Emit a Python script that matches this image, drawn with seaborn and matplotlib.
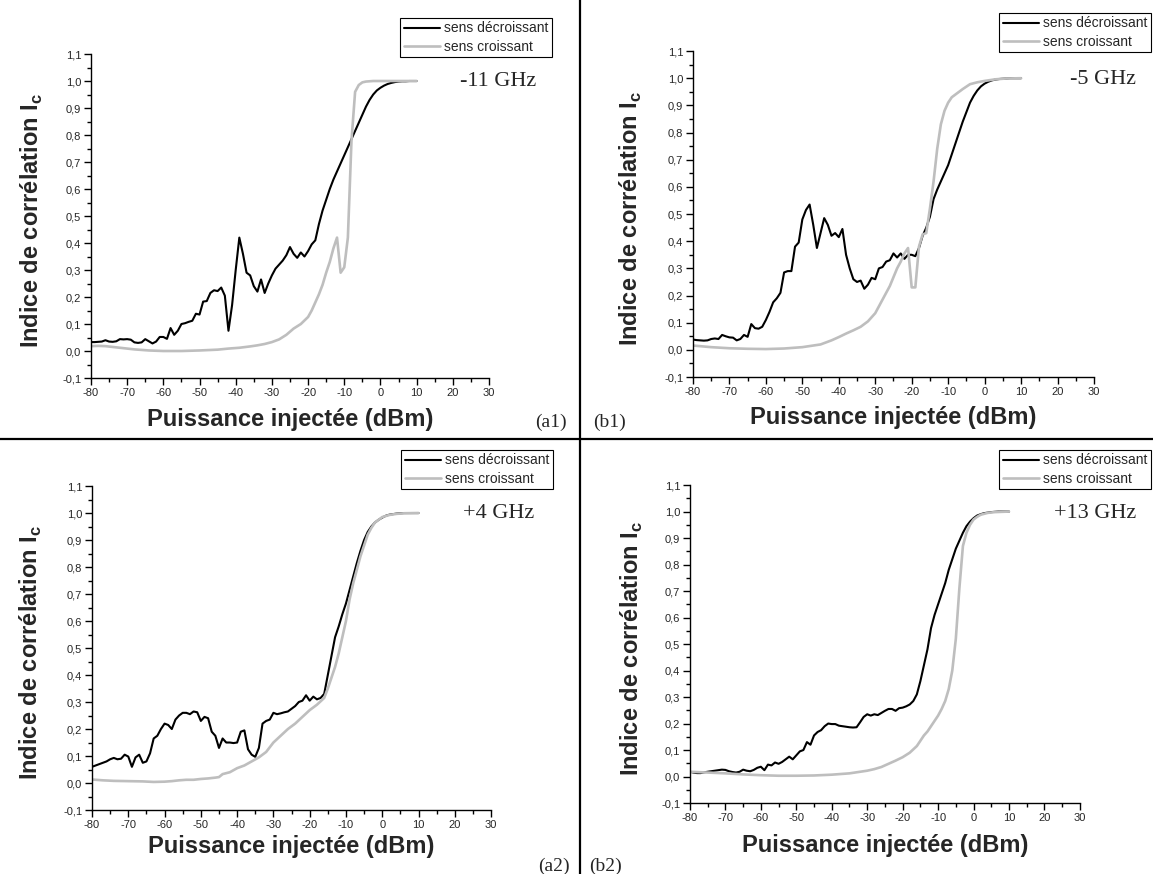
import numpy as np
import pandas as pd
import matplotlib
matplotlib.use("Agg")
import matplotlib.pyplot as plt
from matplotlib.lines import Line2D
from matplotlib.ticker import MultipleLocator, FuncFormatter
import seaborn as sns

sns.set_style("ticks")
plt.rcParams["font.family"] = ["Liberation Sans", "DejaVu Sans"]
plt.rcParams["axes.unicode_minus"] = False
plt.rcParams["mathtext.fontset"] = "custom"
plt.rcParams["mathtext.rm"] = "Liberation Sans"
plt.rcParams["mathtext.bf"] = "Liberation Sans:bold"

# puissance injectée (dBm), pas de 1 dB pour le sens décroissant
puissance = list(range(-80, 11))

# (a1) -11 GHz
a1_dec = [0.033, 0.033, 0.034, 0.035, 0.040, 0.035, 0.034, 0.036, 0.044, 0.043,
          0.044, 0.042, 0.032, 0.030, 0.032, 0.044, 0.036, 0.028, 0.035, 0.052,
          0.052, 0.045, 0.085, 0.060, 0.075, 0.100, 0.103, 0.108, 0.112, 0.138,
          0.135, 0.183, 0.185, 0.215, 0.225, 0.222, 0.235, 0.205, 0.075, 0.170,
          0.300, 0.420, 0.360, 0.290, 0.280, 0.240, 0.220, 0.265, 0.215, 0.250,
          0.280, 0.305, 0.320, 0.335, 0.355, 0.385, 0.360, 0.345, 0.365, 0.350,
          0.370, 0.395, 0.410, 0.470, 0.520, 0.560, 0.600, 0.635, 0.665, 0.695,
          0.725, 0.755, 0.785, 0.815, 0.845, 0.875, 0.905, 0.930, 0.950, 0.965,
          0.975, 0.983, 0.989, 0.993, 0.996, 0.998, 0.999, 0.999, 1.000, 1.000, 1.000]
a1_cro_x = [-80, -78, -76, -74, -72, -70, -68, -66, -64, -62, -60, -55, -50, -45, -42,
            -39, -36, -34, -32, -30, -28, -26, -24, -22, -20, -19, -18, -17, -16, -15,
            -14, -13, -12, -11, -10, -9, -8, -7, -6, -5, -4, -2, 0, 2, 5, 10]
a1_cro = [0.018, 0.019, 0.018, 0.015, 0.012, 0.009, 0.006, 0.004, 0.002, 0.001, 0.000,
          0.000, 0.002, 0.005, 0.009, 0.012, 0.017, 0.021, 0.026, 0.033, 0.043, 0.060,
          0.083, 0.100, 0.126, 0.150, 0.180, 0.210, 0.245, 0.290, 0.330, 0.380, 0.420,
          0.290, 0.310, 0.420, 0.780, 0.960, 0.985, 0.995, 0.998, 1.000, 1.000, 1.000,
          1.000, 1.000]

# (b1) -5 GHz
b1_dec = [0.038, 0.036, 0.035, 0.034, 0.035, 0.040, 0.042, 0.040, 0.055, 0.050,
          0.046, 0.045, 0.035, 0.040, 0.055, 0.048, 0.095, 0.080, 0.078, 0.085,
          0.110, 0.140, 0.175, 0.190, 0.210, 0.285, 0.290, 0.290, 0.380, 0.395,
          0.480, 0.515, 0.535, 0.460, 0.375, 0.430, 0.485, 0.460, 0.420, 0.430,
          0.415, 0.445, 0.350, 0.300, 0.260, 0.250, 0.255, 0.225, 0.240, 0.265,
          0.260, 0.300, 0.305, 0.325, 0.330, 0.355, 0.340, 0.355, 0.335, 0.350,
          0.350, 0.345, 0.375, 0.420, 0.450, 0.490, 0.555, 0.590, 0.620, 0.650,
          0.680, 0.720, 0.760, 0.800, 0.840, 0.875, 0.910, 0.935, 0.955, 0.970,
          0.980, 0.987, 0.992, 0.995, 0.997, 0.998, 0.999, 1.000, 1.000, 1.000, 1.000]
b1_cro_x = [-80, -75, -70, -65, -60, -55, -50, -45, -42, -40, -38, -36, -34, -32, -30,
            -28, -26, -24, -23, -22, -21, -20, -19, -18, -17, -16, -15, -14, -13, -12,
            -11, -10, -9, -8, -6, -4, -2, 0, 3, 6, 10]
b1_cro = [0.016, 0.010, 0.006, 0.004, 0.003, 0.005, 0.010, 0.020, 0.035, 0.047, 0.060,
          0.072, 0.085, 0.105, 0.135, 0.185, 0.235, 0.300, 0.325, 0.355, 0.375, 0.230,
          0.230, 0.380, 0.425, 0.430, 0.520, 0.620, 0.740, 0.830, 0.880, 0.910, 0.930,
          0.940, 0.960, 0.978, 0.985, 0.990, 0.996, 0.999, 1.000]

# (a2) +4 GHz
a2_dec = [0.060, 0.065, 0.070, 0.075, 0.080, 0.088, 0.093, 0.088, 0.090, 0.105,
          0.098, 0.060, 0.095, 0.105, 0.075, 0.080, 0.110, 0.165, 0.175, 0.200,
          0.220, 0.215, 0.200, 0.235, 0.250, 0.260, 0.260, 0.255, 0.265, 0.262,
          0.230, 0.245, 0.240, 0.190, 0.175, 0.130, 0.165, 0.150, 0.150, 0.148,
          0.150, 0.190, 0.195, 0.125, 0.105, 0.097, 0.130, 0.220, 0.230, 0.235,
          0.260, 0.255, 0.258, 0.262, 0.265, 0.275, 0.285, 0.300, 0.305, 0.325,
          0.305, 0.320, 0.310, 0.315, 0.330, 0.400, 0.470, 0.540, 0.580, 0.625,
          0.665, 0.715, 0.765, 0.815, 0.860, 0.900, 0.930, 0.950, 0.965, 0.975,
          0.983, 0.990, 0.994, 0.996, 0.998, 0.999, 1.000, 1.000, 1.000, 1.000, 1.000]
a2_cro_x = [-80, -77, -74, -70, -66, -63, -60, -58, -56, -54, -52, -50, -48, -46, -45,
            -44, -42, -40, -38, -36, -34, -32, -30, -28, -26, -24, -22, -20, -18, -16,
            -15, -14, -13, -12, -11, -10, -9, -8, -7, -6, -5, -4, -3, -2, -1, 0, 2, 4,
            6, 10]
a2_cro = [0.013, 0.010, 0.008, 0.007, 0.006, 0.004, 0.005, 0.007, 0.010, 0.012, 0.012,
          0.015, 0.017, 0.020, 0.022, 0.033, 0.040, 0.055, 0.065, 0.080, 0.095, 0.115,
          0.150, 0.175, 0.200, 0.220, 0.245, 0.270, 0.290, 0.315, 0.350, 0.390, 0.430,
          0.480, 0.540, 0.600, 0.680, 0.740, 0.790, 0.840, 0.880, 0.920, 0.945, 0.965,
          0.975, 0.985, 0.993, 0.997, 0.999, 1.000]

# (b2) +13 GHz
b2_dec = [0.018, 0.015, 0.013, 0.013, 0.016, 0.018, 0.020, 0.022, 0.024, 0.026,
          0.025, 0.020, 0.017, 0.015, 0.018, 0.026, 0.022, 0.020, 0.025, 0.033,
          0.037, 0.024, 0.045, 0.042, 0.053, 0.048, 0.055, 0.065, 0.075, 0.065,
          0.080, 0.095, 0.100, 0.130, 0.120, 0.155, 0.168, 0.175, 0.190, 0.200,
          0.198, 0.198, 0.192, 0.190, 0.188, 0.186, 0.185, 0.186, 0.205, 0.225,
          0.235, 0.230, 0.235, 0.232, 0.240, 0.248, 0.255, 0.255, 0.248, 0.258,
          0.260, 0.265, 0.272, 0.285, 0.310, 0.360, 0.420, 0.480, 0.560, 0.610,
          0.650, 0.690, 0.730, 0.780, 0.820, 0.860, 0.890, 0.920, 0.945, 0.962,
          0.975, 0.985, 0.990, 0.994, 0.996, 0.998, 0.999, 1.000, 1.000, 1.000, 1.000]
b2_cro_x = [-80, -75, -70, -65, -60, -55, -50, -45, -40, -35, -30, -28, -26, -24, -22,
            -20, -18, -16, -15, -14, -13, -12, -11, -10, -9, -8, -7, -6, -5, -4, -3,
            -2, -1, 0, 1, 2, 4, 6, 10]
b2_cro = [0.018, 0.015, 0.012, 0.008, 0.005, 0.003, 0.003, 0.004, 0.007, 0.012, 0.022,
          0.028, 0.036, 0.048, 0.060, 0.073, 0.090, 0.115, 0.135, 0.155, 0.170, 0.190,
          0.210, 0.230, 0.255, 0.285, 0.330, 0.400, 0.520, 0.710, 0.870, 0.920, 0.950,
          0.970, 0.980, 0.988, 0.995, 0.998, 1.000]

sens = ["sens décroissant", "sens croissant"]
palette = {"sens décroissant": "black", "sens croissant": "#bebebe"}
widths = {"sens décroissant": 1.5, "sens croissant": 1.9}

panels = [
    dict(dec=a1_dec, cx=a1_cro_x, cro=a1_cro, rect=[0.0789, 0.5675, 0.3452, 0.3707],
         freq="-11 GHz", fpos=(498, 82), tag="(a1)", tpos=(551, 422),
         leg=(552, 18), xl=-0.127, yl=-0.148),
    dict(dec=b1_dec, cx=b1_cro_x, cro=b1_cro, rect=[0.6010, 0.5686, 0.3478, 0.3730],
         freq="-5 GHz", fpos=(1103, 79), tag="(b1)", tpos=(610, 422),
         leg=(1151, 13), xl=-0.123, yl=-0.155),
    dict(dec=a2_dec, cx=a2_cro_x, cro=a2_cro, rect=[0.0798, 0.0732, 0.3461, 0.3707],
         freq="+4 GHz", fpos=(499, 514), tag="(a2)", tpos=(554, 866),
         leg=(553, 450), xl=-0.114, yl=-0.153),
    dict(dec=b2_dec, cx=b2_cro_x, cro=b2_cro, rect=[0.5984, 0.0812, 0.3382, 0.3638],
         freq="+13 GHz", fpos=(1095, 514), tag="(b2)", tpos=(606, 866),
         leg=(1151, 450), xl=-0.135, yl=-0.149),
]

W, H = 1153, 874
fig = plt.figure(figsize=(W / 100, H / 100), dpi=100)

virgule = FuncFormatter(lambda v, p: f"{v:.1f}".replace(".", ",").replace("-0,0", "0,0"))

for p in panels:
    ax = fig.add_axes(p["rect"])
    df = pd.concat([
        pd.DataFrame({"P": puissance, "Ic": p["dec"], "sens": sens[0]}),
        pd.DataFrame({"P": p["cx"], "Ic": p["cro"], "sens": sens[1]}),
    ])
    for s in sens:
        sns.lineplot(data=df[df.sens == s], x="P", y="Ic", color=palette[s],
                     linewidth=widths[s], estimator=None, ax=ax, legend=False)

    ax.set_xlim(-80, 30)
    ax.set_ylim(-0.1, 1.1)
    ax.xaxis.set_major_locator(MultipleLocator(10))
    ax.xaxis.set_minor_locator(MultipleLocator(5))
    ax.yaxis.set_major_locator(MultipleLocator(0.1))
    ax.yaxis.set_minor_locator(MultipleLocator(0.05))
    ax.yaxis.set_major_formatter(virgule)
    ax.tick_params(which="major", direction="out", length=5, width=1, labelsize=8,
                   pad=2, color="black")
    ax.tick_params(which="minor", direction="out", length=3, width=1, color="black")
    sns.despine(ax=ax)
    for sp in ["left", "bottom"]:
        ax.spines[sp].set_color("black")
        ax.spines[sp].set_linewidth(1)

    ax.set_xlabel("Puissance injectée (dBm)", fontsize=17, fontweight="bold", va="center")
    ax.set_ylabel(r"Indice de corrélation I$_{\mathbf{c}}$", fontsize=17,
                  fontweight="bold", va="center")
    ax.xaxis.set_label_coords(0.5, p["xl"])
    ax.yaxis.set_label_coords(p["yl"], 0.485)

    ax.legend(handles=ax.get_lines()[:2], labels=sens, loc="upper right",
              bbox_to_anchor=(p["leg"][0] / W, 1 - p["leg"][1] / H),
              bbox_transform=fig.transFigure, fontsize=10, frameon=True,
              fancybox=False, framealpha=1, edgecolor="black", borderpad=0.25,
              labelspacing=0.3, handlelength=2.6, handletextpad=0.3, borderaxespad=0)
    ax.get_legend().get_frame().set_linewidth(0.8)

    fig.text(p["fpos"][0] / W, 1 - p["fpos"][1] / H, p["freq"], fontsize=16,
             family="Liberation Serif", ha="center", va="center")
    fig.text(p["tpos"][0] / W, 1 - p["tpos"][1] / H, p["tag"], fontsize=14,
             family="Liberation Serif", ha="center", va="center")

# séparateurs entre les quatre graphes
fig.add_artist(Line2D([580 / W, 580 / W], [0, 1], color="black", lw=1.6,
                      transform=fig.transFigure))
fig.add_artist(Line2D([0, 1], [1 - 439 / H, 1 - 439 / H], color="black", lw=1.6,
                      transform=fig.transFigure))

fig.savefig("out.png", dpi=100)
